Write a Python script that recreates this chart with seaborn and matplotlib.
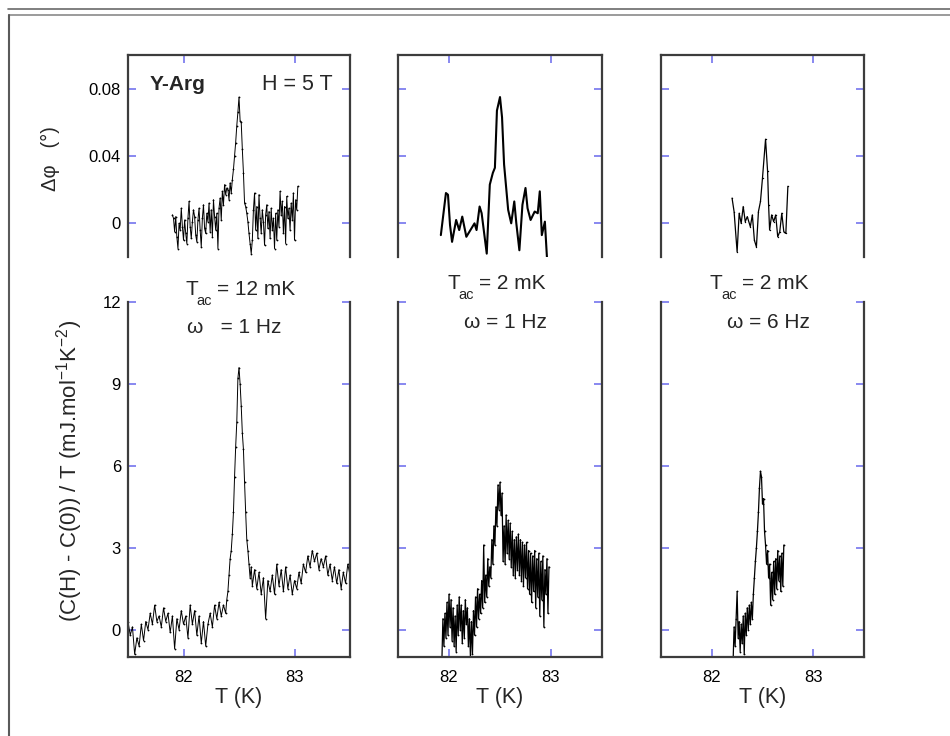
import matplotlib
matplotlib.use("Agg")
import numpy as np
import pandas as pd
import matplotlib.pyplot as plt
import seaborn as sns
from matplotlib.lines import Line2D

# ---------------- data ----------------
# top-left: phase shift, Tac = 12 mK, 1 Hz
T_phi_a = [81.90, 81.91, 81.92, 81.93, 81.94, 81.95, 81.96, 81.97, 81.98, 81.99,
           82.00, 82.01, 82.02, 82.03, 82.04, 82.05, 82.06, 82.07, 82.08, 82.09,
           82.10, 82.11, 82.12, 82.13, 82.14, 82.15, 82.16, 82.17, 82.18, 82.19,
           82.20, 82.21, 82.22, 82.23, 82.24, 82.25, 82.26, 82.27, 82.28, 82.29,
           82.30, 82.31, 82.32, 82.33, 82.34, 82.35, 82.36, 82.37, 82.38, 82.39,
           82.40, 82.41, 82.42, 82.43, 82.44, 82.45, 82.46, 82.47, 82.48, 82.49,
           82.50, 82.51, 82.52, 82.53, 82.54, 82.55, 82.56, 82.57, 82.58, 82.59,
           82.60, 82.61, 82.62, 82.63, 82.64, 82.65, 82.66, 82.67, 82.68, 82.69,
           82.70, 82.71, 82.72, 82.73, 82.74, 82.75, 82.76, 82.77, 82.78, 82.79,
           82.80, 82.81, 82.82, 82.83, 82.84, 82.85, 82.86, 82.87, 82.88, 82.89,
           82.90, 82.91, 82.92, 82.93, 82.94, 82.95, 82.96, 82.97, 82.98, 82.99,
           83.00, 83.01, 83.02, 83.03]
phi_a = [0.005, 0.003, -0.005, 0.004, -0.008, -0.015, 0.000, -0.004, 0.009, -0.002,
         -0.010, 0.002, -0.006, -0.012, 0.003, 0.013, -0.002, -0.009, 0.001, 0.008,
         0.004, -0.007, -0.011, 0.002, 0.009, -0.004, -0.014, 0.003, 0.011, -0.003,
         -0.006, 0.006, 0.001, 0.012, -0.005, 0.008, -0.008, 0.014, 0.004, -0.004,
         0.006, -0.015, 0.009, 0.015, 0.002, 0.019, 0.011, 0.023, 0.017, 0.021,
         0.020, 0.014, 0.024, 0.018, 0.026, 0.032, 0.040, 0.048, 0.058, 0.066,
         0.075, 0.061, 0.060, 0.044, 0.030, 0.012, 0.010, 0.006, 0.001, -0.006,
         -0.012, -0.018, -0.010, 0.008, 0.018, -0.004, 0.010, -0.009, 0.017, 0.003,
         -0.006, 0.008, 0.001, -0.013, 0.005, 0.011, -0.003, 0.007, -0.009, 0.009,
         -0.004, 0.003, -0.015, 0.006, -0.010, 0.008, -0.002, 0.019, 0.005, 0.013,
         -0.006, 0.010, -0.012, 0.016, 0.003, 0.009, -0.004, 0.012, 0.002, 0.018,
         -0.010, 0.014, 0.008, 0.022]

# top-middle: phase shift, Tac = 2 mK, 1 Hz
T_phi_b = [81.92, 81.97, 81.99, 82.01, 82.03, 82.07, 82.10, 82.13, 82.17, 82.21,
           82.25, 82.27, 82.30, 82.32, 82.37, 82.40, 82.43, 82.45, 82.47, 82.50,
           82.52, 82.54, 82.58, 82.61, 82.64, 82.66, 82.69, 82.72, 82.75, 82.77,
           82.80, 82.84, 82.87, 82.89, 82.91, 82.94, 82.96]
phi_b = [-0.007, 0.018, 0.017, -0.001, -0.011, 0.002, -0.004, 0.004, -0.008, -0.004,
         0.000, -0.004, 0.010, 0.006, -0.018, 0.023, 0.030, 0.033, 0.067, 0.075,
         0.063, 0.035, 0.008, 0.000, 0.013, 0.000, -0.016, 0.011, 0.021, 0.009,
         0.002, 0.007, 0.006, 0.019, -0.007, 0.001, -0.020]

# top-right: phase shift, Tac = 2 mK, 6 Hz
T_phi_c = [82.20, 82.22, 82.25, 82.27, 82.29, 82.31, 82.33, 82.35, 82.38, 82.40,
           82.42, 82.44, 82.46, 82.48, 82.50, 82.53, 82.55, 82.56, 82.57, 82.59,
           82.61, 82.63, 82.65, 82.67, 82.69, 82.71, 82.73, 82.75]
phi_c = [0.015, 0.007, -0.017, 0.006, 0.000, 0.010, 0.001, 0.004, -0.002, 0.005,
         -0.010, -0.014, 0.007, 0.013, 0.027, 0.050, 0.031, 0.011, -0.004, 0.005,
         0.001, 0.005, -0.008, -0.005, 0.006, -0.005, -0.006, 0.022]

# bottom-left: (C(H)-C(0))/T, Tac = 12 mK, 1 Hz
T_c_a = [81.50, 81.52, 81.54, 81.56, 81.58, 81.60, 81.62, 81.64, 81.66, 81.68,
         81.70, 81.72, 81.74, 81.76, 81.78, 81.80, 81.82, 81.84, 81.86, 81.88,
         81.90, 81.92, 81.94, 81.96, 81.98, 82.00, 82.02, 82.04, 82.06, 82.08,
         82.10, 82.12, 82.14, 82.16, 82.18, 82.20, 82.22, 82.24, 82.26, 82.28,
         82.30, 82.32, 82.34, 82.36, 82.38, 82.39, 82.40, 82.41, 82.42, 82.43,
         82.44, 82.45, 82.46, 82.47, 82.48, 82.49, 82.50, 82.51, 82.52, 82.53,
         82.54, 82.55, 82.56, 82.57, 82.58, 82.59, 82.60, 82.61, 82.62, 82.64,
         82.66, 82.68, 82.70, 82.72, 82.74, 82.76, 82.78, 82.80, 82.82, 82.84,
         82.86, 82.88, 82.90, 82.92, 82.94, 82.96, 82.98, 83.00, 83.02, 83.04,
         83.06, 83.08, 83.10, 83.12, 83.14, 83.16, 83.18, 83.20, 83.22, 83.24,
         83.26, 83.28, 83.30, 83.32, 83.34, 83.36, 83.38, 83.40, 83.42, 83.44,
         83.46, 83.48, 83.50]
c_a = [0.3, -0.2, 0.1, -0.9, -0.3, -0.6, 0.2, -0.4, 0.3, 0.0,
       0.6, 0.2, 0.9, 0.3, 0.5, 0.1, 0.8, 0.3, 0.6, -0.1,
       0.5, -0.7, 0.4, 0.0, 0.7, 0.2, 0.5, -0.3, 0.9, 0.2,
       0.7, -0.2, 0.5, -0.5, 0.3, -0.6, 0.2, 0.6, 0.1, 0.9,
       0.4, 1.0, 0.5, 0.9, 0.6, 1.1, 1.4, 2.0, 2.6, 2.9,
       3.5, 4.3, 5.6, 6.7, 7.6, 9.2, 9.6, 9.0, 8.2, 7.2,
       6.6, 5.4, 4.3, 3.3, 2.9, 2.4, 1.9, 2.3, 1.6, 2.2,
       1.5, 2.1, 1.3, 1.9, 0.4, 1.8, 1.4, 2.0, 1.3, 2.4,
       1.6, 2.2, 1.4, 2.3, 1.5, 2.0, 1.3, 1.8, 1.5, 2.1,
       1.7, 2.4, 2.1, 2.7, 2.3, 2.9, 2.5, 2.8, 2.2, 2.6,
       2.3, 2.7, 2.0, 2.4, 1.8, 2.3, 1.7, 2.2, 1.5, 2.1,
       1.7, 2.4, 2.0]

# bottom-middle: Tac = 2 mK, 1 Hz
T_c_b = [81.93, 81.94, 81.95, 81.96, 81.97, 81.98, 81.99, 82.00, 82.01, 82.02,
         82.03, 82.04, 82.05, 82.06, 82.07, 82.08, 82.09, 82.10, 82.11, 82.12,
         82.13, 82.14, 82.15, 82.16, 82.17, 82.18, 82.19, 82.20, 82.21, 82.22,
         82.23, 82.24, 82.25, 82.26, 82.27, 82.28, 82.29, 82.30, 82.31, 82.32,
         82.33, 82.34, 82.35, 82.36, 82.37, 82.38, 82.39, 82.40, 82.41, 82.42,
         82.43, 82.44, 82.45, 82.46, 82.47, 82.48, 82.49, 82.50, 82.51, 82.52,
         82.53, 82.54, 82.55, 82.56, 82.57, 82.58, 82.59, 82.60, 82.61, 82.62,
         82.63, 82.64, 82.65, 82.66, 82.67, 82.68, 82.69, 82.70, 82.71, 82.72,
         82.73, 82.74, 82.75, 82.76, 82.77, 82.78, 82.79, 82.80, 82.81, 82.82,
         82.83, 82.84, 82.85, 82.86, 82.87, 82.88, 82.89, 82.90, 82.91, 82.92,
         82.93, 82.94, 82.95, 82.96, 82.97, 82.98]
c_b = [-1.2, 0.4, -0.6, 0.6, -0.3, 1.0, -0.2, 1.3, 0.1, 1.1,
       -0.4, 0.8, -0.6, 0.5, -0.8, 0.9, -0.2, 1.2, 0.0, 0.9,
       -0.5, 0.7, -0.3, 1.1, 0.2, 0.8, -0.6, 0.4, -1.0, 0.3,
       -0.9, 0.7, -0.2, 1.2, 0.1, 1.5, 0.4, 1.3, 0.6, 1.8,
       0.8, 3.1, 1.0, 2.0, 1.2, 2.6, 1.6, 2.3, 1.9, 3.3,
       2.4, 3.8, 3.1, 4.5, 3.8, 5.3, 4.4, 5.4, 4.2, 5.0,
       2.5, 3.8, 2.4, 4.2, 2.8, 4.0, 2.6, 3.9, 2.3, 3.6,
       2.0, 3.3, 1.9, 3.4, 2.2, 3.5, 2.0, 3.3, 1.8, 3.2,
       1.6, 3.1, 1.9, 3.2, 1.5, 2.9, 1.3, 2.8, 1.0, 2.7,
       1.4, 2.9, 0.8, 2.6, 1.2, 2.8, 0.5, 2.5, 1.1, 2.7,
       0.1, 2.2, 1.3, 2.6, 0.6, 2.3]

# bottom-right: Tac = 2 mK, 6 Hz
T_c_c = [82.21, 82.22, 82.23, 82.24, 82.25, 82.26, 82.27, 82.28, 82.29, 82.30,
         82.31, 82.32, 82.33, 82.34, 82.35, 82.36, 82.37, 82.38, 82.39, 82.40,
         82.41, 82.42, 82.43, 82.44, 82.45, 82.46, 82.47, 82.48, 82.49, 82.50,
         82.51, 82.52, 82.53, 82.54, 82.55, 82.56, 82.57, 82.58, 82.59, 82.60,
         82.61, 82.62, 82.63, 82.64, 82.65, 82.66, 82.67, 82.68, 82.69, 82.70,
         82.71]
c_c = [-1.2, 0.1, -0.6, 0.4, 1.4, -0.3, 0.3, -0.8, 0.2, -0.5,
       0.5, -0.9, 0.6, -0.2, 0.8, 0.0, 0.9, 0.2, 1.0, 0.4,
       1.3, 1.9, 2.5, 3.0, 3.6, 4.3, 5.2, 5.8, 5.6, 4.6,
       4.8, 3.6, 3.1, 2.4, 2.9, 1.9, 2.4, 0.9, 2.1, 1.1,
       2.5, 1.3, 2.6, 1.5, 2.9, 1.8, 2.7, 1.4, 2.8, 1.6,
       3.1]

x_ticks = [82, 83]
x_tick_labels = ["82", "83"]
phi_ticks = [0, 0.04, 0.08]
phi_tick_labels = ["0", "0.04", "0.08"]
c_ticks = [0, 3, 6, 9, 12]
c_tick_labels = ["0", "3", "6", "9", "12"]
tac_labels = ["= 12 mK", "= 2 mK", "= 2 mK"]
omega_labels = ["\u03c9   = 1 Hz", "\u03c9 = 1 Hz", "\u03c9 = 6 Hz"]

# ---------------- styling ----------------
sns.set_style("white")
plt.rcParams["font.family"] = ["Liberation Sans", "DejaVu Sans"]
plt.rcParams["mathtext.default"] = "regular"

W, H = 950, 736
fig = plt.figure(figsize=(9.5, 7.36), dpi=100)

def rect(x0, y0, x1, y1):
    return [x0 / W, 1 - y1 / H, (x1 - x0) / W, (y1 - y0) / H]

def fx(px):
    return px / W

def fy(py):
    return 1 - py / H

TICK = "#7474ee"
SPINE = "#3c3c3c"
cols = [(128, 350), (398, 602), (661, 864)]

MK = dict(marker=".", markeredgewidth=0, markerfacecolor="black")
top_data = [(T_phi_a, phi_a), (T_phi_b, phi_b), (T_phi_c, phi_c)]
bot_data = [(T_c_a, c_a), (T_c_b, c_b), (T_c_c, c_c)]
top_styles = [dict(linewidth=0.7, markersize=2.6, **MK),
              dict(linewidth=1.5),
              dict(linewidth=0.9, markersize=2.0, **MK)]
bot_styles = [dict(linewidth=0.7, markersize=2.6, **MK),
              dict(linewidth=0.9, markersize=2.6, **MK),
              dict(linewidth=0.9, markersize=2.6, **MK)]

def style_axes(ax):
    for s in ax.spines.values():
        s.set_color(SPINE)
        s.set_linewidth(1.6)
    ax.tick_params(which="major", direction="in", length=6, width=1.2,
                   color=TICK, labelsize=12, labelcolor="black")
    ax.set_xlim(81.5, 83.5)
    ax.set_xticks(x_ticks)

for i, (x0, x1) in enumerate(cols):
    # top: phase
    ax = fig.add_axes(rect(x0, 55, x1, 257))
    df = pd.DataFrame({"T": top_data[i][0], "phi": top_data[i][1]})
    sns.lineplot(data=df, x="T", y="phi", ax=ax, color="black",
                 estimator=None, sort=False, **top_styles[i])
    style_axes(ax)
    ax.set_ylim(-0.02, 0.1)
    ax.set_yticks(phi_ticks)
    ax.set_yticklabels(phi_tick_labels)
    ax.spines["bottom"].set_visible(False)
    ax.tick_params(axis="x", top=True, bottom=False, labelbottom=False, labeltop=False)
    ax.tick_params(axis="y", left=True, right=True, labelleft=(i == 0), labelright=False, pad=5)
    ax.set_xlabel("")
    ax.set_ylabel("")
    if i == 0:
        ax.set_ylabel("\u0394\u03c6   (\u00b0)", fontsize=14.5, va="center")
        ax.yaxis.set_label_coords((50 - x0) / (x1 - x0), (257 - 159) / 202)
        ax.text((150 - x0) / (x1 - x0), (257 - 85) / 202, "Y-Arg", transform=ax.transAxes,
                fontsize=15, fontweight="bold", ha="left", va="center")
        ax.text((333 - x0) / (x1 - x0), (257 - 85) / 202, "H = 5 T", transform=ax.transAxes,
                fontsize=15.5, ha="right", va="center")

    # bottom: specific heat
    ax = fig.add_axes(rect(x0, 302, x1, 657))
    df = pd.DataFrame({"T": bot_data[i][0], "C": bot_data[i][1]})
    sns.lineplot(data=df, x="T", y="C", ax=ax, color="black",
                 estimator=None, sort=False, **bot_styles[i])
    style_axes(ax)
    ax.set_ylim(-1, 12)
    ax.set_yticks(c_ticks)
    ax.set_yticklabels(c_tick_labels)
    ax.set_xticklabels(x_tick_labels)
    ax.spines["top"].set_visible(False)
    ax.tick_params(axis="x", top=False, bottom=True, labelbottom=True, pad=9)
    ax.tick_params(axis="y", left=True, right=True, labelleft=(i == 0), labelright=False, pad=5)
    ax.set_xlabel("T (K)", fontsize=15.5, va="center")
    ax.xaxis.set_label_coords(0.5, (657 - 698) / 355)
    ax.set_ylabel("")
    if i == 0:
        ax.set_ylabel("(C(H) - C(0)) / T (mJ.mol$^{ -1}$K$^{ -2}$)", fontsize=16, va="center")
        ax.yaxis.set_label_coords((70 - x0) / (x1 - x0), (657 - 471) / 355)

# T_ac / omega annotations
tac_pos = [(185, 295), (447, 289), (710, 289)]
om_pos = [(187, 333), (464, 328), (727, 328)]
for i in range(3):
    tx, ty = tac_pos[i]
    fig.text(fx(tx), fy(ty), "T", fontsize=15, ha="left", va="baseline")
    fig.text(fx(tx + 11), fy(ty + 10), "ac", fontsize=10.5, ha="left", va="baseline")
    fig.text(fx(tx + 32), fy(ty), tac_labels[i], fontsize=15, ha="left", va="baseline")
    ox, oy = om_pos[i]
    fig.text(fx(ox), fy(oy), omega_labels[i], fontsize=15, ha="left", va="baseline")

# outer frame lines
fig.add_artist(Line2D([fx(8), 1], [fy(9), fy(9)], color="#6a6a6a", lw=1.2))
fig.add_artist(Line2D([fx(9), 1], [fy(15), fy(15)], color="#8a8a8a", lw=1.2))
fig.add_artist(Line2D([fx(9), fx(9)], [fy(15), 0], color="#5a5a5a", lw=1.5))

fig.savefig("out.png", dpi=100)
